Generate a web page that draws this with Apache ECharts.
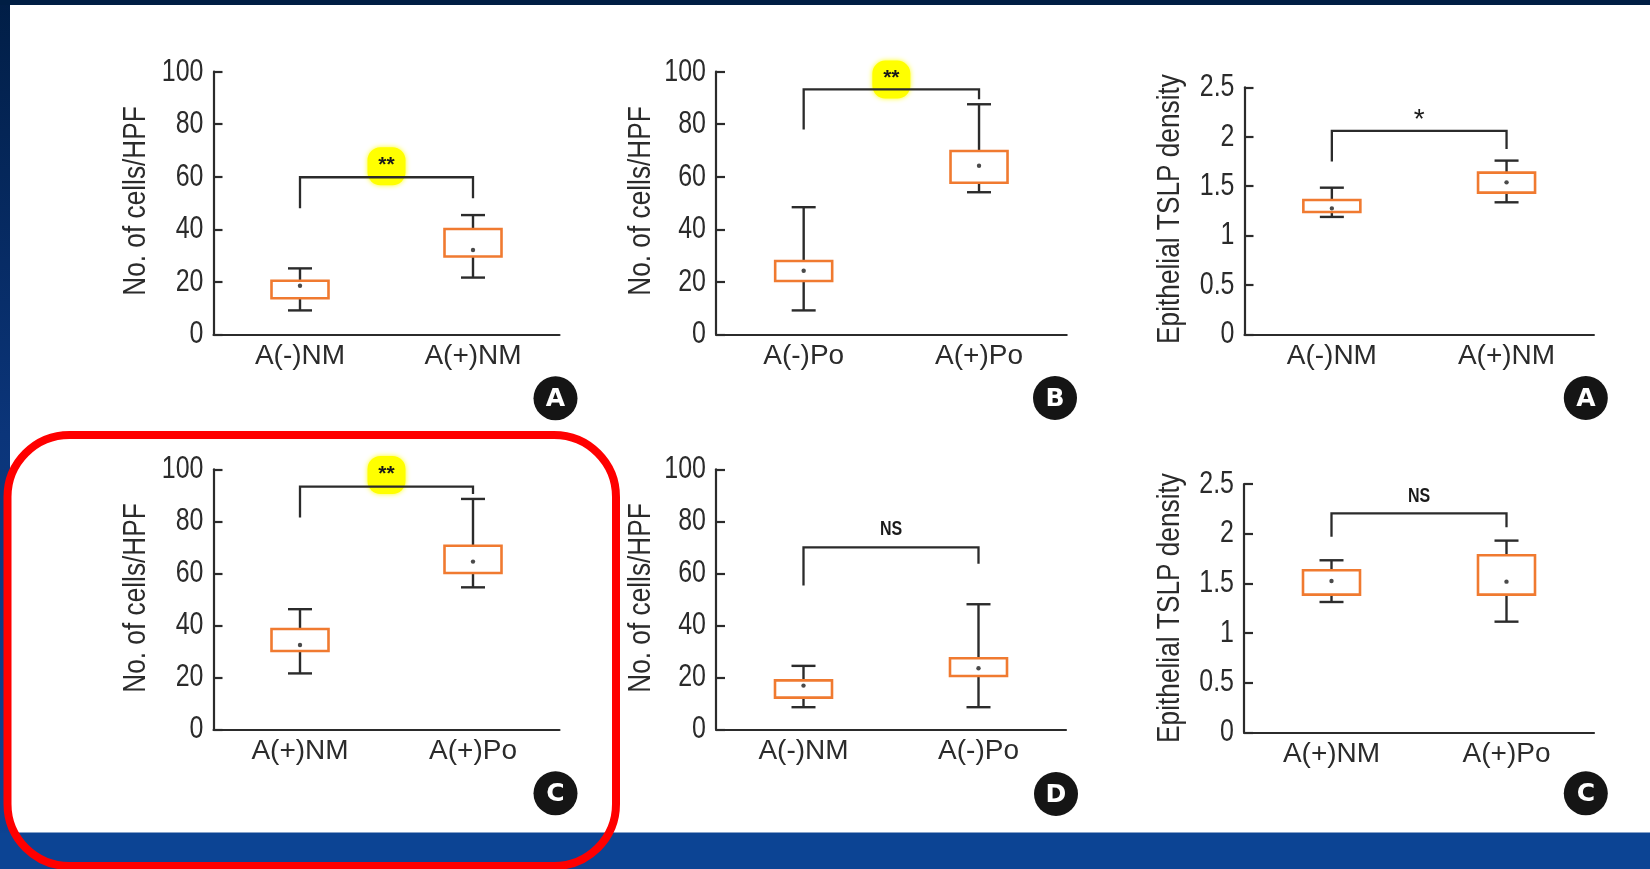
<!DOCTYPE html>
<html><head><meta charset="utf-8">
<script src="https://cdn.jsdelivr.net/npm/echarts@6/dist/echarts.min.js"></script>
<style>html,body{margin:0;padding:0;background:#fff}#c{width:1650px;height:869px}</style>
</head><body><div id="c"></div>
<script>
// ---------------- DATA ----------------
// stats per category: [lowWhisker, Q1, Q3, highWhisker, mean]
const yTicksCells = [0, 20, 40, 60, 80, 100];
const yTicksTSLP = [0, 0.5, 1, 1.5, 2, 2.5];

const catsTL = ['A(-)NM', 'A(+)NM'];
const statsTL = [[9.1, 13.7, 20.4, 25.1, 18.5], [21.6, 29.6, 40.1, 45.4, 32.1]];
const bracketTL = [48, 59.8, 51.8];           // left leg end, bar, right leg end
const signifTL = ['**', 66.6, 64];            // text, text y, highlight y

const catsTM = ['A(-)Po', 'A(+)Po'];
const statsTM = [[9.1, 20.3, 27.9, 48.4, 24.2], [54.1, 57.7, 69.8, 87.6, 64.2]];
const bracketTM = [78, 93.3, 89.5];
const signifTM = ['**', 99.6, 97];

const catsTR = ['A(-)NM', 'A(+)NM'];
const statsTR = [[1.188, 1.238, 1.36, 1.484, 1.275], [1.336, 1.434, 1.636, 1.758, 1.538]];
const bracketTR = [1.748, 2.058, 1.876];
const signifTR = ['*', 2.22, null];

const catsBL = ['A(+)NM', 'A(+)Po'];
const statsBL = [[21.5, 30.1, 38.6, 46.2, 32.4], [54.6, 60.1, 70.6, 88.6, 64.5]];
const bracketBL = [81.5, 93.3, 90.5];
const signifBL = ['**', 100.4, 97.8];

const catsBM = ['A(-)NM', 'A(-)Po'];
const statsBM = [[8.5, 12.2, 18.8, 24.4, 16.8], [8.5, 20.5, 27.3, 48.1, 23.5]];
const bracketBM = [55.3, 70, 63.7];
const signifBM = ['NS', 76.7, null];

const catsBR = ['A(+)NM', 'A(+)Po'];
const statsBR = [[1.312, 1.386, 1.631, 1.732, 1.523], [1.114, 1.386, 1.782, 1.93, 1.517]];
const bracketBR = [1.97, 2.205, 2.064];
const signifBR = ['NS', 2.379, null];

const yTitleCells = 'No. of cells/HPF';
const yTitleTSLP = 'Epithelial TSLP density';
const panelLetters = ['A', 'B', 'A', 'C', 'D', 'C'];

// ---------------- LAYOUT ----------------
const grids = [
  {left: 213.5, top: 71.7, width: 346, height: 262.6},
  {left: 716, top: 71.7, width: 350.7, height: 262.6},
  {left: 1244.5, top: 87.3, width: 349.4, height: 247},
  {left: 213.5, top: 469.3, width: 346, height: 260},
  {left: 716, top: 469.3, width: 350, height: 260},
  {left: 1244, top: 484, width: 350, height: 248.3}
];
const letterPos = [[555.5, 398.3], [1055, 398], [1585.8, 398], [555.5, 793.3], [1056, 794], [1585.8, 793.3]];
const titlePos = [[136, 201], [641.5, 201], [1170, 209], [136, 598], [641.5, 598], [1170, 608]];

const panels = [
  {cats: catsTL, stats: statsTL, br: bracketTL, sg: signifTL, ticks: yTicksCells, title: yTitleCells},
  {cats: catsTM, stats: statsTM, br: bracketTM, sg: signifTM, ticks: yTicksCells, title: yTitleCells},
  {cats: catsTR, stats: statsTR, br: bracketTR, sg: signifTR, ticks: yTicksTSLP, title: yTitleTSLP},
  {cats: catsBL, stats: statsBL, br: bracketBL, sg: signifBL, ticks: yTicksCells, title: yTitleCells},
  {cats: catsBM, stats: statsBM, br: bracketBM, sg: signifBM, ticks: yTicksCells, title: yTitleCells},
  {cats: catsBR, stats: statsBR, br: bracketBR, sg: signifBR, ticks: yTicksTSLP, title: yTitleTSLP}
];

const INK = '#2b2b2b';
const REG = '"Liberation Sans", Arial, sans-serif';
const COND = '"DejaVu Sans Condensed", "Liberation Sans", sans-serif';

function boxRender(params, api) {
  const x = api.value(0);
  const low = api.coord([x, api.value(1)]);
  const q1 = api.coord([x, api.value(2)]);
  const q3 = api.coord([x, api.value(3)]);
  const high = api.coord([x, api.value(4)]);
  const mean = api.coord([x, api.value(5)]);
  const cx = low[0], bw = 57, cw = 24;
  const ls = {stroke: INK, lineWidth: 2.4};
  return {type: 'group', children: [
    {type: 'line', shape: {x1: cx, y1: high[1], x2: cx, y2: q3[1]}, style: ls},
    {type: 'line', shape: {x1: cx, y1: q1[1], x2: cx, y2: low[1]}, style: ls},
    {type: 'line', shape: {x1: cx - cw / 2, y1: high[1], x2: cx + cw / 2, y2: high[1]}, style: ls},
    {type: 'line', shape: {x1: cx - cw / 2, y1: low[1], x2: cx + cw / 2, y2: low[1]}, style: ls},
    {type: 'rect', shape: {x: cx - bw / 2, y: q3[1], width: bw, height: q1[1] - q3[1]},
      style: {fill: '#ffffff', stroke: '#f07a30', lineWidth: 2.6}},
    {type: 'circle', shape: {cx: cx, cy: mean[1], r: 2.2}, style: {fill: '#4a4a4a'}}
  ]};
}

// y tick labels drawn through the axis scale, in a condensed (scaled) face
function tickLabelRender(params, api) {
  const v = api.value(0);
  const p = api.coord([0, v]);
  return {type: 'text', x: params.coordSys.x - 10, y: p[1], scaleX: 0.78,
    style: {text: String(v), fill: INK, fontSize: 32, fontFamily: REG,
      align: 'right', verticalAlign: 'middle'}};
}

function makeBracketRender(sg) {
  return function (params, api) {
    const l = api.coord([0, api.value(0)]);
    const b0 = api.coord([0, api.value(1)]);
    const b1 = api.coord([1, api.value(1)]);
    const r = api.coord([1, api.value(2)]);
    const mx = (b0[0] + b1[0]) / 2;
    const children = [];
    if (sg[2] != null) {
      const hy = api.coord([0, sg[2]])[1];
      children.push({type: 'rect', shape: {x: mx - 19, y: hy - 19, width: 38, height: 38, r: 13},
        style: {fill: '#ffff00', shadowBlur: 5, shadowColor: 'rgba(255,255,0,0.9)'}});
    }
    children.push({type: 'polyline', shape: {points: [l, b0, b1, r]},
      style: {stroke: INK, lineWidth: 2.3, fill: 'none'}});
    const ty = api.coord([0, sg[1]])[1];
    let fs, dy, fam, fw, sx = 1;
    if (sg[0] === '**') { fs = 21; dy = 5.5; fam = REG; fw = 'bold'; }
    else if (sg[0] === '*') { fs = 28; dy = 5; fam = REG; fw = 'normal'; }
    else { fs = 20; dy = 0; fam = REG; fw = 'bold'; sx = 0.8; }
    children.push({type: 'text', x: mx, y: ty + dy, scaleX: sx,
      style: {text: sg[0], fill: '#1a1a1a', fontSize: fs, fontWeight: fw,
        fontFamily: fam, align: 'center', verticalAlign: 'middle'}});
    return {type: 'group', children: children};
  };
}

const option = {
  backgroundColor: '#ffffff',
  animation: false,
  grid: grids.map(g => Object.assign({containLabel: false}, g)),
  xAxis: panels.map((p, i) => ({
    type: 'category', gridIndex: i, data: p.cats,
    axisLine: {lineStyle: {color: INK, width: 2.2}},
    axisTick: {show: false},
    axisLabel: {fontSize: 28, color: INK, fontFamily: REG, margin: 8}
  })),
  yAxis: panels.map((p, i) => ({
    type: 'value', gridIndex: i, min: p.ticks[0], max: p.ticks[p.ticks.length - 1],
    interval: p.ticks[1] - p.ticks[0],
    axisLine: {show: true, lineStyle: {color: INK, width: 2.2}},
    axisTick: {show: true, inside: true, length: 9, lineStyle: {color: INK, width: 2.2}},
    splitLine: {show: false},
    axisLabel: {show: false}
  })),
  series: [].concat(
    panels.map((p, i) => ({
      type: 'custom', xAxisIndex: i, yAxisIndex: i, z: 3,
      renderItem: boxRender,
      data: p.stats.map((s, k) => [k].concat(s))
    })),
    panels.map((p, i) => ({
      type: 'custom', xAxisIndex: i, yAxisIndex: i, z: 4,
      renderItem: makeBracketRender(p.sg),
      data: [p.br]
    })),
    panels.map((p, i) => ({
      type: 'custom', xAxisIndex: i, yAxisIndex: i, z: 4, clip: false,
      renderItem: tickLabelRender,
      data: p.ticks.map(v => [v])
    }))
  ),
  graphic: [].concat([
    {type: 'rect', z: -10, shape: {x: 0, y: 0, width: 10, height: 869},
      style: {fill: new echarts.graphic.LinearGradient(0, 0, 0, 1, [
        {offset: 0, color: '#011e46'}, {offset: 0.5, color: '#0b357a'}, {offset: 1, color: '#0c4494'}])}},
    {type: 'rect', z: -10, shape: {x: 0, y: 0, width: 1650, height: 5}, style: {fill: '#001e44'}},
    {type: 'rect', z: -10, shape: {x: 0, y: 832.5, width: 1650, height: 37}, style: {fill: '#0c4494'}},
    {type: 'rect', z: 100, shape: {x: 7.5, y: 435, width: 608.5, height: 431, r: 62},
      style: {fill: 'none', stroke: '#ff0000', lineWidth: 8}}
  ], panels.map((p, i) => ({
    type: 'text', z: 20, x: titlePos[i][0], y: titlePos[i][1], rotation: Math.PI / 2, scaleX: 0.82,
    style: {text: p.title, fill: INK, fontSize: 32, fontFamily: REG, align: 'center', verticalAlign: 'middle'}
  })), letterPos.map((pos, i) => ({
    type: 'group', z: 50, children: [
      {type: 'circle', shape: {cx: pos[0], cy: pos[1], r: 22}, style: {fill: '#151515'}},
      {type: 'text', x: pos[0], y: pos[1] + 1, style: {text: panelLetters[i], fill: '#ffffff',
        fontSize: 25, fontWeight: 'bold', fontFamily: '"DejaVu Sans", sans-serif',
        align: 'center', verticalAlign: 'middle'}}
    ]
  })))
};

const chart = echarts.init(document.getElementById('c'), null, {renderer: 'canvas'});
chart.setOption(option);
</script>
</body></html>
